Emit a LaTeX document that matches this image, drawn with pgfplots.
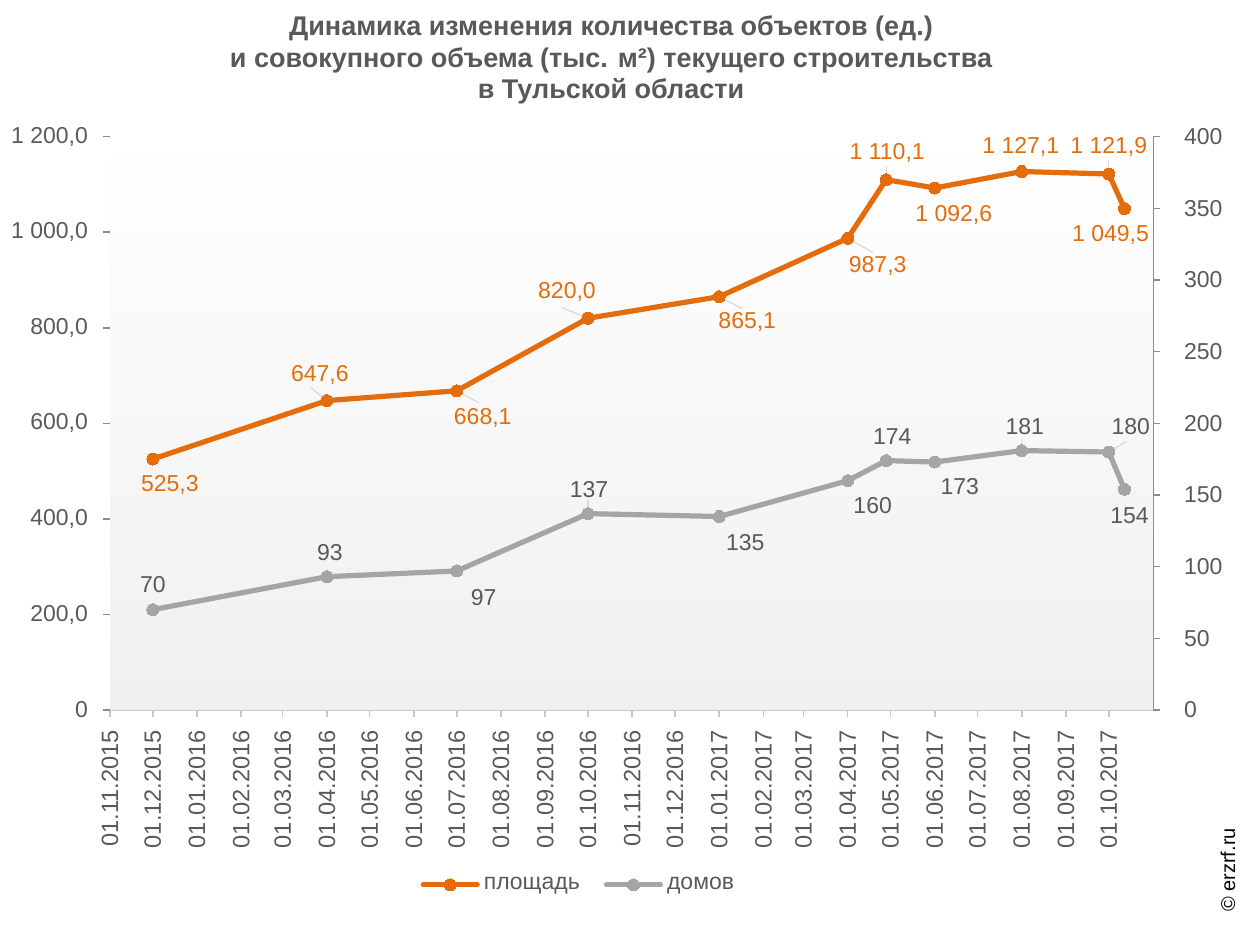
\documentclass[border=0pt]{standalone}
\usepackage{fontspec}
\setmainfont{Liberation Sans}
\usepackage{pgfplots}
\usepackage{pgfplotstable}
\pgfplotsset{compat=1.18}

\definecolor{orng}{HTML}{E46C0A}
\definecolor{gry}{HTML}{A5A5A5}
\definecolor{txt}{HTML}{595959}
\definecolor{axl}{HTML}{8C8C8C}
\definecolor{axb}{HTML}{C8C8C8}
\definecolor{lead}{HTML}{D9D9D9}

% x = days since 01.11.2015
\pgfplotstableread{
x y
30 525.3
152 647.6
243 668.1
335 820.0
427 865.1
517 987.3
544 1110.1
578 1092.6
639 1127.1
700 1121.9
711 1049.5
}\areadata

\pgfplotstableread{
x y
30 70
152 93
243 97
335 137
427 135
517 160
544 174
578 173
639 181
700 180
711 154
}\housedata

\newcommand{\fs}{\fontsize{11.5}{13.5}\selectfont}

\begin{document}
\begin{tikzpicture}
\useasboundingbox (0,0) rectangle (624pt,462.5pt);

\node[align=center, text=txt, font=\bfseries\fontsize{13.5}{15.8}\selectfont] at (305.5pt,432.5pt)
 {Динамика изменения количества объектов (ед.)\\и совокупного объема (тыс. м²) текущего строительства\\в Тульской области};

\node[rotate=90, font=\fontsize{10}{12}\selectfont, text=black] at (614pt,27.5pt) {© erzrf.ru};

\begin{axis}[
  at={(55pt,107.5pt)}, anchor=south west,
  scale only axis, width=521.5pt, height=286.65pt,
  xmin=0, xmax=731, ymin=0, ymax=1200,
  axis x line*=bottom, axis y line*=left,
  x axis line style={axb,-}, y axis line style={axl,-},
  xtick={0,30,61,92,121,152,182,213,243,274,305,335,366,396,427,458,486,517,547,578,608,639,670,700},
  xticklabels={01.11.2015,01.12.2015,01.01.2016,01.02.2016,01.03.2016,01.04.2016,01.05.2016,01.06.2016,01.07.2016,01.08.2016,01.09.2016,01.10.2016,01.11.2016,01.12.2016,01.01.2017,01.02.2017,01.03.2017,01.04.2017,01.05.2017,01.06.2017,01.07.2017,01.08.2017,01.09.2017,01.10.2017},
  ytick={0,200,400,600,800,1000,1200},
  yticklabels={0,{200,0},{400,0},{600,0},{800,0},{1 000,0},{1 200,0}},
  tick align=outside, major tick length=3.5pt,
  xtick style={axb, line width=0.8pt}, ytick style={axl, line width=0.8pt},
  tick label style={font=\fs, text=txt},
  x tick label style={rotate=90, anchor=east, font=\fontsize{11.8}{13.5}\selectfont},
  xticklabel shift=3pt,
  yticklabel style={xshift=-4pt},
  clip=false,
]
\fill[top color=white, bottom color=black!6, draw=none] (rel axis cs:0,0) rectangle (rel axis cs:1,1);
% leader lines
\draw[lead, line width=0.6pt] (axis cs:152,647.6) -- ++(-8pt,6.5pt);
\draw[lead, line width=0.6pt] (axis cs:243,668.1) -- ++(11pt,-6pt);
\draw[lead, line width=0.6pt] (axis cs:335,820.0) -- ++(-13.5pt,5.5pt);
\draw[lead, line width=0.6pt] (axis cs:427,865.1) -- ++(11.5pt,-6pt);
\draw[lead, line width=0.6pt] (axis cs:517,987.3) -- ++(12.5pt,-7pt);
\draw[lead, line width=0.6pt] (axis cs:544,1110.1) -- ++(0pt,7pt);
\draw[lead, line width=0.6pt] (axis cs:700,1121.9) -- ++(0pt,6.5pt);

\addplot[orng, line width=2.6pt, line join=round, mark=*, mark size=3pt, mark options={solid, fill=orng, draw=orng, line width=0pt}] table[x=x,y=y] {\areadata};

\begin{scope}[every node/.style={font=\fs, text=orng}]
\node at (axis cs:30,525.3) [xshift=8.5pt, yshift=-13pt] {525,3};
\node at (axis cs:152,647.6) [xshift=-3.5pt, yshift=13pt] {647,6};
\node at (axis cs:243,668.1) [xshift=13pt, yshift=-13.5pt] {668,1};
\node at (axis cs:335,820.0) [xshift=-10.5pt, yshift=13pt] {820,0};
\node at (axis cs:427,865.1) [xshift=14pt, yshift=-12.5pt] {865,1};
\node at (axis cs:517,987.3) [xshift=15pt, yshift=-14pt] {987,3};
\node at (axis cs:544,1110.1) [xshift=0.5pt, yshift=13.5pt] {1 110,1};
\node at (axis cs:578,1092.6) [xshift=9.5pt, yshift=-13.5pt] {1 092,6};
\node at (axis cs:639,1127.1) [xshift=-0.5pt, yshift=12.5pt] {1 127,1};
\node at (axis cs:700,1121.9) [xshift=0pt, yshift=13.5pt] {1 121,9};
\node at (axis cs:711,1049.5) [xshift=-7pt, yshift=-13pt] {1 049,5};
\end{scope}
\end{axis}

\begin{axis}[
  at={(55pt,107.5pt)}, anchor=south west,
  scale only axis, width=521.5pt, height=286.65pt,
  xmin=0, xmax=731, ymin=0, ymax=400,
  axis x line=none, axis y line*=right,
  y axis line style={axl,-},
  ytick={0,50,100,150,200,250,300,350,400},
  yticklabels={0,50,100,150,200,250,300,350,400},
  tick align=outside, major tick length=3.5pt,
  ytick style={axl, line width=0.8pt},
  tick label style={font=\fs, text=txt},
  yticklabel style={anchor=west, xshift=8.5pt},
  clip=false,
  legend columns=2,
  legend cell align=left,
  legend style={draw=none, fill=none, at={(0.45,-0.305)}, anchor=center, font=\fs, text=txt,
    /tikz/every even column/.append style={column sep=10pt}},
  legend image code/.code={\draw[#1, line cap=round, mark repeat=2, mark phase=2] plot coordinates {(0pt,0pt) (13.5pt,0pt) (27pt,0pt)};},
]
\addlegendimage{orng, line width=2.6pt, mark=*, mark size=3pt, mark options={solid, fill=orng, draw=orng, line width=0pt}}
\addlegendentry{площадь}

\draw[lead, line width=0.6pt] (axis cs:335,137) -- ++(0pt,7pt);
\draw[lead, line width=0.6pt] (axis cs:639,181) -- ++(0pt,6pt);
\draw[lead, line width=0.6pt] (axis cs:700,180) -- ++(9pt,5.5pt);

\addplot[gry, line width=2.6pt, line join=round, mark=*, mark size=3pt, mark options={solid, fill=gry, draw=gry, line width=0pt}] table[x=x,y=y] {\housedata};
\addlegendentry{домов}

\begin{scope}[every node/.style={font=\fs, text=txt}]
\node at (axis cs:30,70) [xshift=0pt, yshift=12.5pt] {70};
\node at (axis cs:152,93) [xshift=1.5pt, yshift=12pt] {93};
\node at (axis cs:243,97) [xshift=13.5pt, yshift=-13.5pt] {97};
\node at (axis cs:335,137) [xshift=0.5pt, yshift=12pt] {137};
\node at (axis cs:427,135) [xshift=13pt, yshift=-13pt] {135};
\node at (axis cs:517,160) [xshift=12.5pt, yshift=-12.5pt] {160};
\node at (axis cs:544,174) [xshift=3pt, yshift=12pt] {174};
\node at (axis cs:578,173) [xshift=12.5pt, yshift=-12.5pt] {173};
\node at (axis cs:639,181) [xshift=1.5pt, yshift=12pt] {181};
\node at (axis cs:700,180) [xshift=11pt, yshift=12.5pt] {180};
\node at (axis cs:711,154) [xshift=2.5pt, yshift=-13pt] {154};
\end{scope}
\end{axis}
\end{tikzpicture}
\end{document}
